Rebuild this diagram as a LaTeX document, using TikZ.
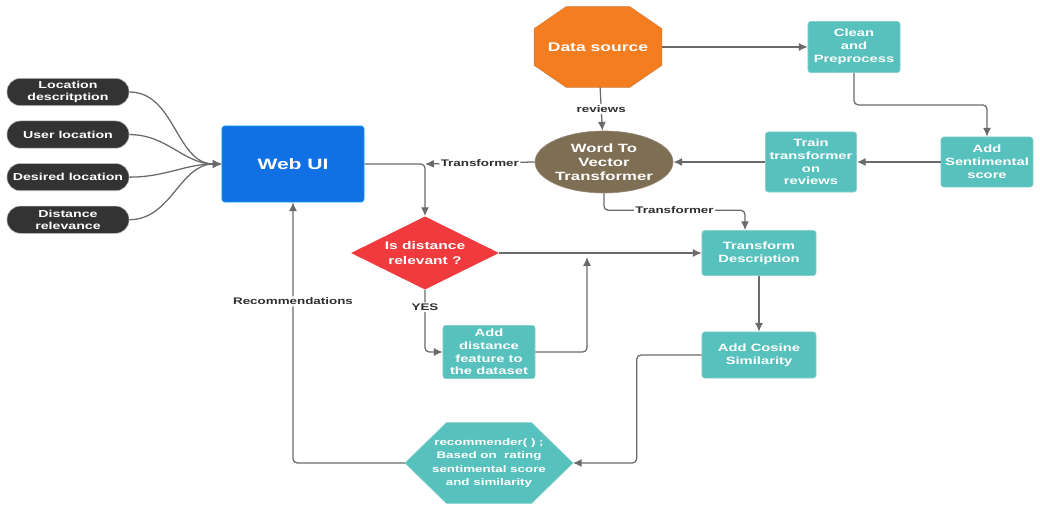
\documentclass[tikz,border=0pt]{standalone}
\usepackage{fontspec}
\setmainfont{Liberation Sans}[FakeStretch=1.4]
\usepackage{xcolor}
\usetikzlibrary{shapes.geometric,arrows.meta,positioning,backgrounds}
\definecolor{pilldark}{HTML}{333333}
\definecolor{webblue}{HTML}{1170E4}
\definecolor{srcorange}{HTML}{F47D20}
\definecolor{wtvbrown}{HTML}{7E6E54}
\definecolor{decred}{HTML}{F03A3E}
\definecolor{tealbox}{HTML}{57C1BD}
\definecolor{linegray}{HTML}{6A6A6A}
\definecolor{labeltext}{HTML}{2E2E2E}
\newcommand\fsz[2]{\fontsize{#1}{#2}\selectfont\bfseries}

\begin{document}
\begin{tikzpicture}[x=0.025cm, y=-0.025cm,
    pill/.style={draw=gray!55, fill=pilldark, rounded corners=0.33cm,
                 minimum width=3.05cm, minimum height=0.68cm, text=white,
                 align=center, inner sep=1pt, font=\fsz{7.2}{8.5}},
    tbox/.style={draw=tealbox!75!white, fill=tealbox, rounded corners=2pt,
                 text=white, align=center, inner sep=1pt, font=\fsz{7.5}{9.1}},
    arr/.style={-{Latex[length=2.2mm,width=2mm]}, draw=linegray,
                line width=0.9pt, rounded corners=3pt},
    lbl/.style={fill=white, inner sep=1pt, text=labeltext, font=\fsz{6.8}{8}},
    node distance=0.37cm
  ]
    \useasboundingbox (0,0) rectangle (1040,510);

    % inputs
    \node[pill] at (68,92) (locdesc) {Location\\descritption};
    \node[pill, below=of locdesc] (userloc) {User location};
    \node[pill, below=of userloc] (desloc)  {Desired location};
    \node[pill, below=of desloc]  (distrel) {Distance\\relevance};

    \node[draw=webblue!70!cyan, fill=webblue, rounded corners=2pt, text=white,
          minimum width=3.55cm, minimum height=1.9cm, font=\fsz{10.7}{12}]
          at (293,164) (web) {Web UI};

    % data pipeline
    \node[text=white, minimum width=3.18cm, minimum height=2cm, inner sep=0pt,
          font=\fsz{8.9}{10}] at (598,47) (src) {Data source};
    \node[tbox, minimum width=2.3cm, minimum height=1.28cm]
          at (854,47) (clean) {Clean\\and\\Preprocess};
    \node[tbox, minimum width=2.3cm, minimum height=1.25cm]
          at (987,162) (sent) {Add\\Sentimental\\score};
    \node[tbox, minimum width=2.28cm, minimum height=1.5cm]
          at (811,162) (train) {Train\\transformer\\on\\reviews};
    \node[ellipse, fill=wtvbrown, draw=wtvbrown!80!white, text=white,
          minimum width=3cm, minimum height=1.55cm, inner sep=0pt,
          align=center, font=\fsz{8.5}{10}]
          at (604,162) (wtv) {Word To\\Vector\\Transformer};

    % decision and matching
    \node[diamond, aspect=2, fill=decred, text=white, minimum width=3.7cm,
          minimum height=1.83cm, inner sep=0pt, align=center,
          font=\fsz{7.9}{10.6}]
          at (425,253) (dist) {Is distance\\relevant ?};
    \node[tbox, minimum width=2.85cm, minimum height=1.13cm]
          at (759,253) (tdesc) {Transform\\Description};
    \node[tbox, minimum width=2.3cm, minimum height=1.33cm]
          at (489,352) (adddist) {Add\\distance\\feature to\\the dataset};
    \node[tbox, minimum width=2.85cm, minimum height=1.15cm]
          at (759,355) (cosine) {Add Cosine\\Similarity};
    \node[text=white, minimum width=4.18cm, minimum height=2cm, inner sep=0pt,
          align=center, font=\fsz{6.8}{9.4}]
          at (489,463) (rec) {recommender( ) ;\\Based on~~rating\\sentimental score\\and similarity};

    \begin{scope}[on background layer]
      % octagon and hexagon outlines
      \filldraw[fill=srcorange, draw=srcorange!70!gray]
        ([yshift=-0.55cm]src.north west) -- ([xshift=0.8cm]src.north west)
        -- ([xshift=-0.8cm]src.north east) -- ([yshift=-0.55cm]src.north east)
        -- ([yshift=0.55cm]src.south east) -- ([xshift=-0.8cm]src.south east)
        -- ([xshift=0.8cm]src.south west) -- ([yshift=0.55cm]src.south west)
        -- cycle;
      \filldraw[fill=tealbox, draw=tealbox!75!white]
        (rec.west) -- ([xshift=1.03cm]rec.north west)
        -- ([xshift=-1.03cm]rec.north east) -- (rec.east)
        -- ([xshift=-1.03cm]rec.south east)
        -- ([xshift=1.03cm]rec.south west) -- cycle;
    \end{scope}

    \coordinate (jn) at (web.east -| dist.north);
    \coordinate (merge) at (587,257);
    \coordinate (tdin) at ([xshift=-0.35cm]tdesc.north);

    \draw[arr] (locdesc.east) to[out=0,in=180] (web.west);
    \draw[arr] (userloc.east) to[out=0,in=180] (web.west);
    \draw[arr] (desloc.east)  to[out=0,in=180] (web.west);
    \draw[arr] (distrel.east) to[out=0,in=180] (web.west);

    \draw[arr] (src) -- (clean);
    \draw[arr] (clean.south) -- ++(0,32) -| (sent.north);
    \draw[arr] (sent) -- (train);
    \draw[arr] (train) -- (wtv);
    \draw[arr] (src) -- node[lbl]{reviews} (wtv);
    \draw[arr] (wtv.west) -- node[lbl]{Transformer} (jn);
    \draw[arr] (web.east) -- (jn) -- (dist.north);
    \draw[arr] (wtv.south) -- ++(0,17) -| node[lbl, pos=0.25]{Transformer} (tdin);
    \draw[arr] (dist.east) -- (tdesc.west);
    \draw[arr] (dist.south) |- node[lbl, pos=0.14]{YES} (adddist.west);
    \draw[arr] (adddist.east) -| (merge);
    \draw[arr] (tdesc) -- (cosine);
    \draw[arr] (cosine.west) -- ++(-65,0) |- (rec.east);
    \draw[arr] (rec.west) -| node[lbl, pos=0.81]{Recommendations} (web.south);
  \end{tikzpicture}
\end{document}
